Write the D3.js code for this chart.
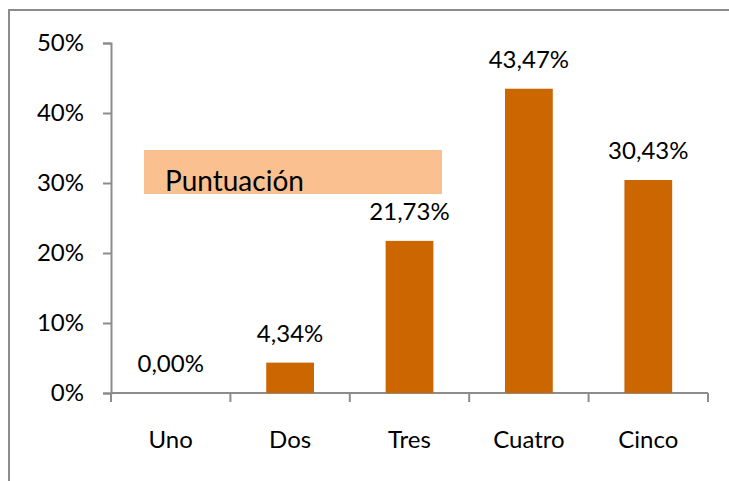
<!DOCTYPE html>
<html>
<head>
<meta charset="utf-8">
<script src="https://cdn.jsdelivr.net/npm/d3@7"></script>
<style>
  html, body { margin: 0; background: #fff; overflow: hidden; }
  svg { display: block; }
  text { font-family: Lato, "Liberation Sans", Arial, sans-serif; fill: #000; }
</style>
</head>
<body>
<div id="chart"></div>
<script>
// data
var categories = ["Uno", "Dos", "Tres", "Cuatro", "Cinco"];
var values = [0.00, 4.34, 21.73, 43.47, 30.43];
var valueLabels = ["0,00%", "4,34%", "21,73%", "43,47%", "30,43%"];
var yTicks = [0, 10, 20, 30, 40, 50];
var legendText = "Puntuación";

var width = 729, height = 481;

var svg = d3.select("#chart").append("svg")
    .attr("width", width)
    .attr("height", height);

// outer frame: only left and top edges are inside the picture
svg.append("path")
    .attr("d", "M9,481 L9,10 L740,10")
    .attr("fill", "none")
    .attr("stroke", "#8c8c8c")
    .attr("stroke-width", 2);

var x = d3.scaleBand()
    .domain(categories)
    .range([111, 708])
    .paddingInner(0.6)
    .paddingOuter(0.3);

var y = d3.scaleLinear()
    .domain([0, 50])
    .range([393, 43]);

var axisColor = "#8c8c8c";

// y axis
var yAxis = svg.append("g")
    .attr("transform", "translate(111,0)")
    .call(d3.axisLeft(y).tickValues(yTicks).tickSize(8).tickPadding(19)
        .tickFormat(d => d + "%"));
yAxis.select(".domain").attr("stroke", axisColor).attr("stroke-width", 2);
yAxis.selectAll(".tick line").attr("stroke", axisColor).attr("stroke-width", 2);
yAxis.selectAll(".tick text")
    .attr("font-size", 24)
    .attr("font-family", "Lato, Liberation Sans, Arial, sans-serif")
    .attr("fill", "#000");

// x axis: ticks sit on the category boundaries
var bounds = d3.range(categories.length + 1).map(i => 111 + i * (708 - 111) / categories.length);
var xg = svg.append("g");
xg.append("line")
    .attr("x1", 111).attr("x2", 708)
    .attr("y1", y(0)).attr("y2", y(0))
    .attr("stroke", axisColor).attr("stroke-width", 2);
xg.selectAll(".xtick")
    .data(bounds)
    .enter()
    .append("line")
    .attr("class", "xtick")
    .attr("x1", d => d).attr("x2", d => d)
    .attr("y1", y(0)).attr("y2", y(0) + 9)
    .attr("stroke", axisColor).attr("stroke-width", 2);
xg.selectAll(".xlabel")
    .data(categories)
    .enter()
    .append("text")
    .attr("class", "xlabel")
    .attr("x", d => x(d) + x.bandwidth() / 2)
    .attr("y", 448)
    .attr("text-anchor", "middle")
    .attr("font-size", 24)
    .text(d => d);

// bars
svg.append("g")
    .selectAll("rect")
    .data(values)
    .enter()
    .append("rect")
    .attr("x", (d, i) => x(categories[i]))
    .attr("y", d => y(d))
    .attr("width", x.bandwidth())
    .attr("height", d => y(0) - y(d))
    .attr("fill", "#cc6600");

// value labels
svg.append("g")
    .selectAll("text")
    .data(values)
    .enter()
    .append("text")
    .attr("x", (d, i) => x(categories[i]) + x.bandwidth() / 2)
    .attr("y", d => y(d) - 21)
    .attr("text-anchor", "middle")
    .attr("font-size", 24)
    .text((d, i) => valueLabels[i]);

// title box
svg.append("rect")
    .attr("x", 144)
    .attr("y", 150)
    .attr("width", 298)
    .attr("height", 44)
    .attr("fill", "#fac090");
svg.append("text")
    .attr("x", 165)
    .attr("y", 191)
    .attr("font-size", 28)
    .text(legendText);
</script>
</body>
</html>
